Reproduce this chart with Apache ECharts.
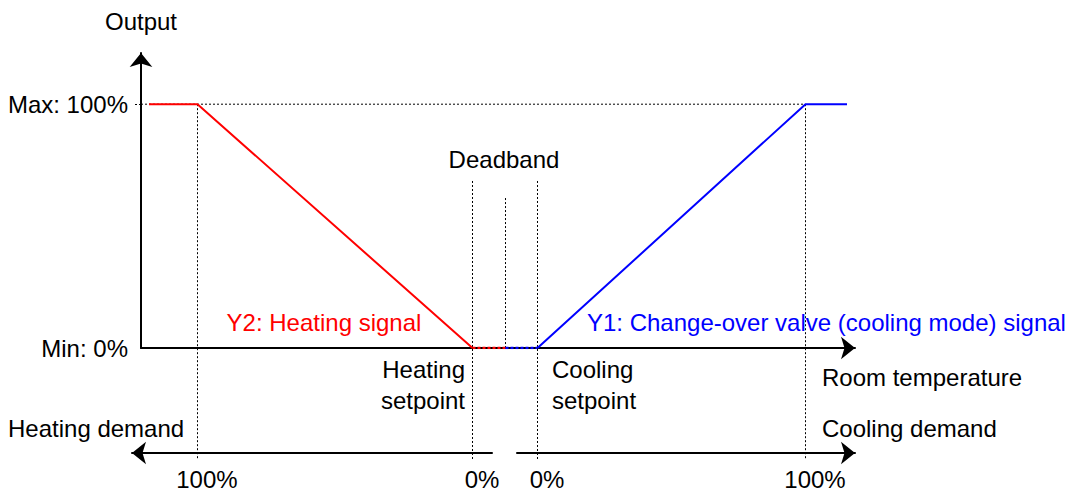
<!DOCTYPE html>
<html>
<head>
<meta charset="utf-8">
<script src="https://cdn.jsdelivr.net/npm/echarts@6/dist/echarts.min.js"></script>
<style>html,body{margin:0;background:#fff}#chart{width:1072px;height:492px}</style>
</head>
<body>
<div id="chart"></div>
<script>
// 输出曲线 (x: 室温刻度, y: 输出 %)
const heating = [[0.8, 100], [5.65, 100], [33.15, 0]];
const heatingDead = [[33.15, 0], [36.45, 0]];
const coolingDead = [[36.45, 0], [39.65, 0]];
const cooling = [[39.65, 0], [66.45, 100], [70.6, 100]];
// 虚线辅助线
const guides = [
  [[-0.8, 100], [66.45, 100]],
  [[5.65, 100], [5.65, -45.9]],
  [[33.15, 68.5], [33.15, -45.9]],
  [[36.45, 61.5], [36.45, 0]],
  [[39.65, 68.5], [39.65, -45.9]],
  [[66.45, 100], [66.45, -45.9]]
];
const outputTicks = [0, 100];
const outputLabels = { 0: 'Min: 0%', 100: 'Max: 100%' };
const demandTicks = [0, 100];

const FONT = "'Liberation Sans', Arial, sans-serif";
const FS = 24;

const chart = echarts.init(document.getElementById('chart'), null, { renderer: 'svg' });

const axisLine = (sym) => ({
  show: true,
  symbol: sym,
  symbolSize: [17, 14],
  lineStyle: { color: '#000', width: 2 }
});

const text = (t, x, y, opt) => ({
  type: 'text',
  style: Object.assign({ text: t, x: x, y: y, fill: '#000', font: FS + 'px ' + FONT, textVerticalAlign: 'middle' }, opt || {})
});

const guideSeries = guides.map(g => ({
  type: 'line', data: g, symbol: 'none', clip: false, silent: true, z: 1,
  lineStyle: { color: '#000', width: 1, type: [2, 2] }
}));

const option = {
  animation: false,
  grid: [
    { left: 141, top: 53, width: 714, height: 295 },
    { left: 132, top: 452, width: 360, height: 1 },
    { left: 517, top: 452, width: 338, height: 1 }
  ],
  xAxis: [
    { gridIndex: 0, type: 'value', min: 0, max: 71.4, axisLine: axisLine(['none', 'arrow']),
      axisTick: { show: false }, axisLabel: { show: false }, splitLine: { show: false } },
    { gridIndex: 1, type: 'value', min: -7.27, max: 123.6, inverse: true, axisLine: axisLine(['arrow', 'none']),
      axisTick: { show: false }, splitLine: { show: false },
      axisLabel: { customValues: demandTicks, formatter: '{value}%', margin: 14, padding: [0, 0, 0, 20],
        color: '#000', fontSize: FS, fontFamily: FONT } },
    { gridIndex: 2, type: 'value', min: -7.46, max: 118.66, axisLine: axisLine(['none', 'arrow']),
      axisTick: { show: false }, splitLine: { show: false },
      axisLabel: { customValues: demandTicks, formatter: '{value}%', margin: 14, padding: [0, 0, 0, 20],
        color: '#000', fontSize: FS, fontFamily: FONT } }
  ],
  yAxis: [
    { gridIndex: 0, type: 'value', min: 0, max: 121, axisLine: axisLine(['none', 'arrow']),
      name: 'Output', nameLocation: 'end', nameGap: 20,
      nameTextStyle: { color: '#000', fontSize: FS, fontFamily: FONT },
      axisTick: { show: true, customValues: [100], length: 8, lineStyle: { color: '#000', width: 1, type: [2, 2] } },
      splitLine: { show: false },
      axisLabel: { customValues: outputTicks, formatter: v => outputLabels[v], margin: 13,
        color: '#000', fontSize: FS, fontFamily: FONT } },
    { gridIndex: 1, show: false, min: 0, max: 1 },
    { gridIndex: 2, show: false, min: 0, max: 1 }
  ],
  series: guideSeries.concat([
    { type: 'line', data: heating, symbol: 'none', z: 3, lineStyle: { color: '#ff0000', width: 2 } },
    { type: 'line', data: heatingDead, symbol: 'none', z: 3, lineStyle: { color: '#ff0000', width: 2.5, type: [3, 2] } },
    { type: 'line', data: coolingDead, symbol: 'none', z: 3, lineStyle: { color: '#0000ff', width: 2.5, type: [3, 2] } },
    { type: 'line', data: cooling, symbol: 'none', z: 3, lineStyle: { color: '#0000ff', width: 2 } }
  ]),
  graphic: [
    text('Deadband', 504, 159, { textAlign: 'center' }),
    text('Y2: Heating signal', 324, 322, { textAlign: 'center', fill: '#ff0000' }),
    text('Y1: Change-over valve (cooling mode) signal', 587, 322, { textAlign: 'left', fill: '#0000ff' }),
    text('Heating', 465, 369, { textAlign: 'right' }),
    text('setpoint', 465, 400, { textAlign: 'right' }),
    text('Cooling', 552, 369, { textAlign: 'left' }),
    text('setpoint', 552, 400, { textAlign: 'left' }),
    text('Room temperature', 822, 377, { textAlign: 'left' }),
    text('Heating demand', 8, 428, { textAlign: 'left' }),
    text('Cooling demand', 822, 428, { textAlign: 'left' })
  ]
};

chart.setOption(option);
</script>
</body>
</html>
